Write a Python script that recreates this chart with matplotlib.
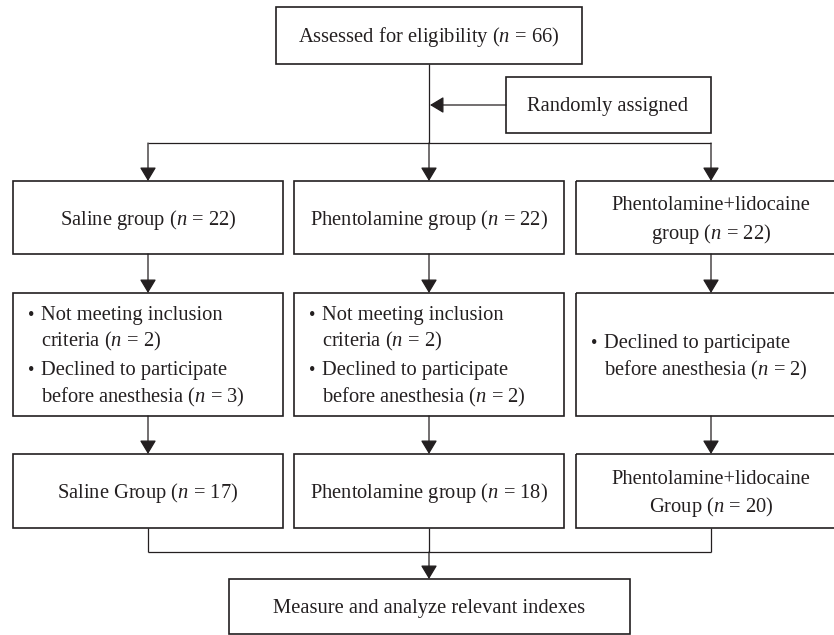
import matplotlib
matplotlib.use("Agg")
import matplotlib.pyplot as plt
from matplotlib.patches import Rectangle

plt.rcParams['font.family'] = ['Liberation Serif', 'DejaVu Serif']
plt.rcParams['mathtext.fontset'] = 'custom'
plt.rcParams['mathtext.rm'] = 'Liberation Serif'
plt.rcParams['mathtext.it'] = 'Liberation Serif:italic'

# ---- data ----
n_assessed = 66
group_names = ["Saline group", "Phentolamine group", "Phentolamine+lidocaine\ngroup"]
n_randomized = [22, 22, 22]
n_not_meeting = [2, 2, None]
n_declined = [3, 2, 2]
final_names = ["Saline Group", "Phentolamine group", "Phentolamine+lidocaine\nGroup"]
n_final = [17, 18, 20]
final_step = "Measure and analyze relevant indexes"
random_label = "Randomly assigned"

# ---- layout ----
W, H = 834, 635
C = '#231f20'
FS = 14.8
DY = 2
fig = plt.figure(figsize=(W / 100, H / 100), dpi=100)
ax = fig.add_axes([0, 0, 1, 1])
ax.set_xlim(0, W)
ax.set_ylim(H, 0)
ax.axis('off')

col_x = [148, 429, 711]
box_w = 270


def box(x0, y0, x1, y1):
    ax.add_patch(Rectangle((x0, y0), x1 - x0, y1 - y0, fill=False,
                           edgecolor=C, linewidth=1.2, clip_on=False))


def line(xs, ys):
    ax.plot(xs, ys, color=C, linewidth=0.9, solid_capstyle='butt')


def arrow(x0, y0, x1, y1):
    ax.annotate('', xy=(x1, y1), xytext=(x0, y0),
                arrowprops=dict(arrowstyle='-|>,head_length=0.7,head_width=0.42',
                                mutation_scale=12, color=C, lw=0.9,
                                shrinkA=0, shrinkB=0))


def txt(x, y, s, ha='center', fs=FS):
    ax.text(x, y + DY, s, ha=ha, va='center', fontsize=fs, color=C)


def ntxt(n):
    return r"($n$ = %d)" % n


# top box
box(276, 7, 582, 64)
txt(429, 35, "Assessed for eligibility " + ntxt(n_assessed))

# randomly assigned
box(506, 77, 711, 133)
txt(608, 105, random_label)
line([429, 429], [64, 143])
arrow(506, 105, 430, 105)

# split
line([col_x[0], col_x[2]], [143, 143])
for cx in col_x:
    arrow(cx, 143, cx, 181)

# row 2
r2 = (181, 254)
for cx, name, n in zip(col_x, group_names, n_randomized):
    box(cx - box_w / 2 + 0.5, r2[0], cx + box_w / 2 + 0.5, r2[1])
    yc = (r2[0] + r2[1]) / 2
    parts = name.split("\n")
    if len(parts) == 1:
        txt(cx, yc, parts[0] + " " + ntxt(n))
    else:
        txt(cx, yc - 14, parts[0])
        txt(cx, yc + 14, parts[1] + " " + ntxt(n))
    arrow(cx, r2[1], cx, 293)

# row 3 (exclusions)
r3 = (293, 416)
for cx, nm, nd in zip(col_x, n_not_meeting, n_declined):
    x0 = cx - box_w / 2 + 0.5
    box(x0, r3[0], cx + box_w / 2 + 0.5, r3[1])
    yc = (r3[0] + r3[1]) / 2
    items = []
    if nm is not None:
        items.append(("Not meeting inclusion", "criteria " + ntxt(nm)))
    items.append(("Declined to participate", "before anesthesia " + ntxt(nd)))
    if len(items) == 2:
        ys = [yc - 41, yc - 15, yc + 14, yc + 41]
    else:
        ys = [yc - 13, yc + 14]
    k = 0
    for a, b in items:
        txt(x0 + 18, ys[k], "\u2022", ha='center', fs=FS * 0.9)
        txt(x0 + 28, ys[k], a, ha='left')
        txt(x0 + 28, ys[k + 1], b, ha='left')
        k += 2
    arrow(cx, r3[1], cx, 454)

# row 4
r4 = (454, 528)
for cx, name, n in zip(col_x, final_names, n_final):
    box(cx - box_w / 2 + 0.5, r4[0], cx + box_w / 2 + 0.5, r4[1])
    yc = (r4[0] + r4[1]) / 2
    parts = name.split("\n")
    if len(parts) == 1:
        txt(cx, yc, parts[0] + " " + ntxt(n))
    else:
        txt(cx, yc - 14, parts[0])
        txt(cx, yc + 14, parts[1] + " " + ntxt(n))

# merge
line([col_x[0], col_x[0]], [r4[1], 552])
line([col_x[2], col_x[2]], [r4[1], 552])
line([col_x[0], col_x[2]], [552, 552])
line([col_x[1], col_x[1]], [r4[1], 552])
arrow(col_x[1], 552, col_x[1], 579)

box(229, 579, 630, 634)
txt(429, 607, final_step)

fig.savefig("out.png", dpi=100)
